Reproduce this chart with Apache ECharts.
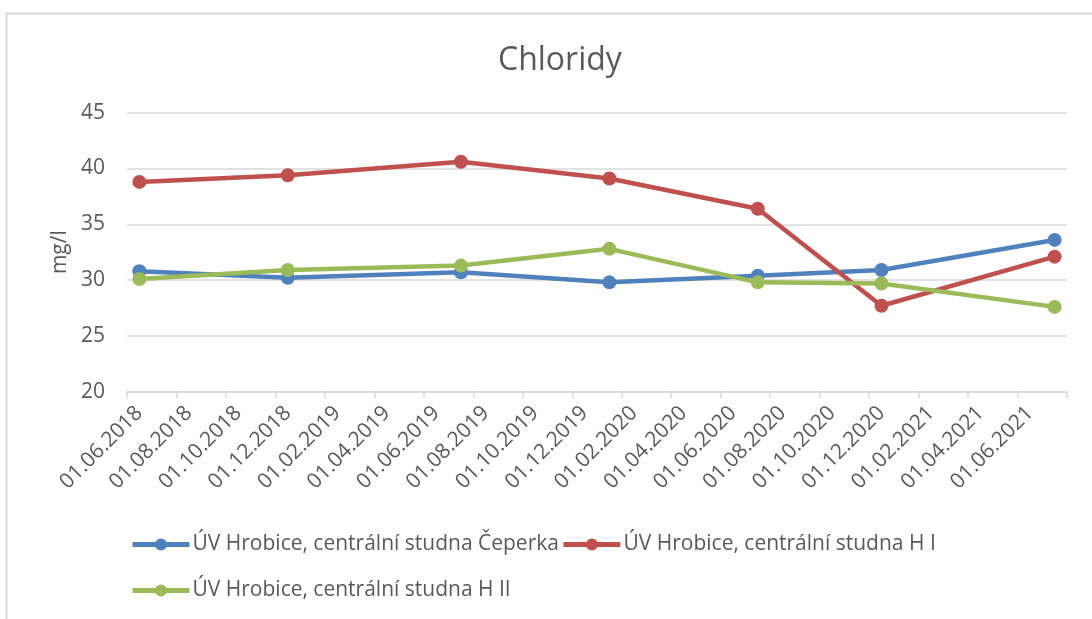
<!DOCTYPE html>
<html>
<head>
<meta charset="utf-8">
<script src="https://cdn.jsdelivr.net/npm/echarts@6/dist/echarts.min.js"></script>
<style>
  html, body { margin: 0; padding: 0; background: #fff; }
  #chart { width: 1092px; height: 619px; }
</style>
</head>
<body>
<div id="chart"></div>
<script>
// monthly categories on the x axis (June 2018 - July 2021)
const months = [
  '01.06.2018', '01.07.2018', '01.08.2018', '01.09.2018', '01.10.2018', '01.11.2018',
  '01.12.2018', '01.01.2019', '01.02.2019', '01.03.2019', '01.04.2019', '01.05.2019',
  '01.06.2019', '01.07.2019', '01.08.2019', '01.09.2019', '01.10.2019', '01.11.2019',
  '01.12.2019', '01.01.2020', '01.02.2020', '01.03.2020', '01.04.2020', '01.05.2020',
  '01.06.2020', '01.07.2020', '01.08.2020', '01.09.2020', '01.10.2020', '01.11.2020',
  '01.12.2020', '01.01.2021', '01.02.2021', '01.03.2021', '01.04.2021', '01.05.2021',
  '01.06.2021', '01.07.2021'
];

// months in which samples were taken
const sampleMonths = ['01.06.2018', '01.12.2018', '01.07.2019', '01.01.2020', '01.07.2020', '01.12.2020', '01.07.2021'];

const ceperka = [30.8, 30.2, 30.7, 29.8, 30.4, 30.9, 33.6];
const studnaHI = [38.8, 39.4, 40.6, 39.1, 36.4, 27.7, 32.1];
const studnaHII = [30.1, 30.9, 31.3, 32.8, 29.8, 29.7, 27.6];

const seriesNames = [
  'ÚV Hrobice, centrální studna Čeperka',
  'ÚV Hrobice, centrální studna H I',
  'ÚV Hrobice, centrální studna H II'
];
const colors = ['#4F81BD', '#C0504D', '#9BBB59'];

const textColor = '#595959';
const gridColor = '#d9d9d9';
const font = '"Open Sans", sans-serif';

// put the sample values on the monthly category axis
function toMonthly(values) {
  return months.map(m => {
    const i = sampleMonths.indexOf(m);
    return i >= 0 ? values[i] : null;
  });
}

const chart = echarts.init(document.getElementById('chart'));

const makeSeries = (name, values, color) => ({
  name: name,
  type: 'line',
  data: toMonthly(values),
  connectNulls: true,
  symbol: 'circle',
  symbolSize: 14,
  itemStyle: { color: color },
  lineStyle: { color: color, width: 4.5 },
  emphasis: { disabled: true }
});

const legendBase = {
  left: 125,
  itemWidth: 57,
  itemHeight: 15,
  itemGap: 2,
  lineStyle: { width: 5 },
  textStyle: { color: textColor, fontSize: 21, fontFamily: font, padding: [0, 0, 0, -2] }
};

chart.setOption({
  animation: false,
  graphic: [{
    type: 'rect',
    shape: { x: 6.5, y: 13.5, width: 1200, height: 700 },
    style: { fill: 'none', stroke: gridColor, lineWidth: 2 },
    silent: true
  }],
  title: {
    text: 'Chloridy',
    left: 493,
    top: 40,
    textStyle: { color: textColor, fontSize: 32, fontWeight: 'normal', fontFamily: font }
  },
  legend: [
    Object.assign({}, legendBase, { top: 529, data: [seriesNames[0], seriesNames[1]] }),
    Object.assign({}, legendBase, { top: 575, data: [seriesNames[2]] })
  ],
  grid: { left: 127, right: 25, top: 112.7, bottom: 227.3, containLabel: false },
  xAxis: {
    type: 'category',
    data: months,
    boundaryGap: true,
    axisLine: { lineStyle: { color: gridColor, width: 1.5 } },
    axisTick: { show: true, interval: 1, length: 6, lineStyle: { color: gridColor, width: 1.5 } },
    axisLabel: {
      interval: 1,
      rotate: 45,
      color: textColor,
      fontSize: 21,
      fontFamily: font,
      margin: 18
    },
    splitLine: { show: false }
  },
  yAxis: {
    type: 'value',
    min: 20,
    max: 45,
    interval: 5,
    name: 'mg/l',
    nameLocation: 'middle',
    nameGap: 52,
    nameTextStyle: { color: textColor, fontSize: 21, fontFamily: font },
    axisLine: { show: false },
    axisTick: { show: false },
    axisLabel: { color: textColor, fontSize: 21, fontFamily: font, margin: 22 },
    splitLine: { lineStyle: { color: gridColor, width: 1.5 } }
  },
  series: [
    makeSeries(seriesNames[0], ceperka, colors[0]),
    makeSeries(seriesNames[1], studnaHI, colors[1]),
    makeSeries(seriesNames[2], studnaHII, colors[2])
  ]
});
</script>
</body>
</html>
